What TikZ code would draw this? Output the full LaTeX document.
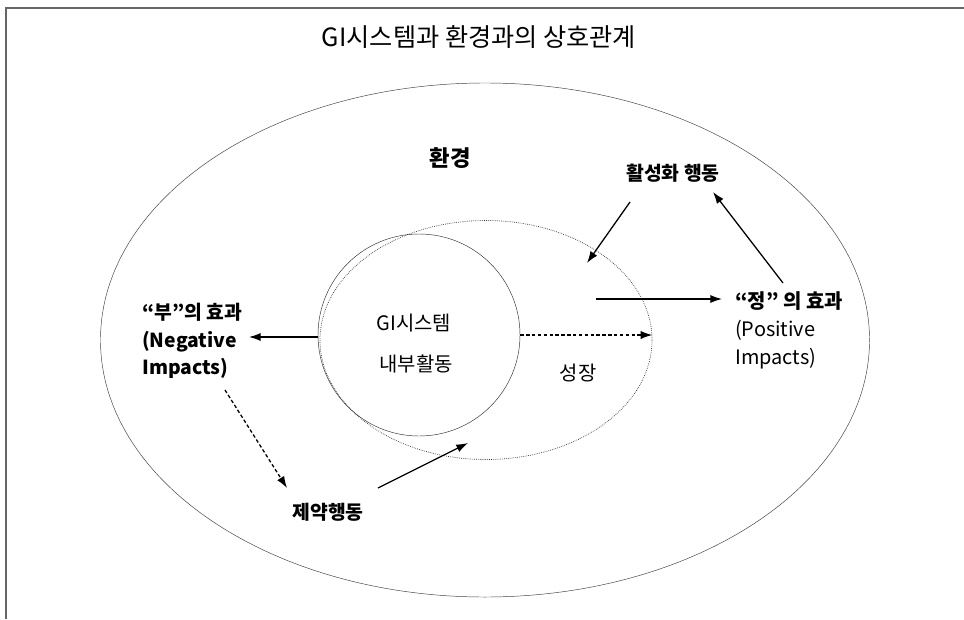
\documentclass[tikz,border=0pt]{standalone}
\usepackage{fontspec}
\setmainfont{Noto Sans CJK KR}
\usetikzlibrary{positioning,shapes.geometric,arrows.meta}

\begin{document}
\begin{tikzpicture}[x=0.03cm, y=-0.03cm,
	lbl/.style={font=\fontsize{16.5}{23.5}\selectfont\bfseries, align=left, inner sep=0pt},
	txt/.style={font=\fontsize{17}{20}\selectfont, inner sep=0pt},
	area/.style={ellipse, inner sep=0pt, draw=black!75},
	arr/.style={-{Latex[length=10pt,width=7pt]}, line width=1.1pt},
	aux/.style={}
	]
	\useasboundingbox (0,0) rectangle (964,619);
	\draw [black!60, line width=1.2pt] (6,619) -- (6,8) -- (964,8);

	\node (title) [font=\fontsize{21.5}{24}\selectfont] at (479,37) {GI시스템과 환경과의 상호관계};

	% areas
	\node (env) [area, minimum width=23.07cm, minimum height=15.42cm] at (485,340) {};
	\node (grow) [area, densely dotted, draw=black!80, line width=0.6pt, minimum width=9.96cm, minimum height=7.17cm] at (486,340) {};
	\node (gi) [circle, draw=black!80, inner sep=0pt, minimum size=6.06cm] at (419,335) {};

	\node (envlbl) [lbl, font=\fontsize{19}{20}\selectfont\bfseries] at (450,158) {환경};
	\node (gilbl) [txt] at (414,323) {GI시스템};
	\node (inner) [txt] at (416,364) {내부활동};
	\node (growlbl) [txt] at (578,373) {성장};
	\node (act) [lbl] at (673,173) {활성화 행동};
	\node (limit) [lbl] at (328,512) {제약행동};
	\node (neg) [lbl, anchor=west] at (142,341) {“부”의 효과\\(Negative\\Impacts)};
	\node (pos) [lbl, anchor=west, font=\fontsize{17}{24}\selectfont] at (735,330) {\textbf{“정” 의 효과}\\(Positive\\Impacts)};

		\coordinate (negtip) at (249,337);
		\coordinate (posfrom) at (596,299);
		\coordinate (postip) at (722,299);
		\coordinate (actfrom) at (630,202);
		\coordinate (acttip) at (587,263);
		\coordinate (posup) at (783,283);
		\coordinate (actup) at (713,192);
		\coordinate (negdown) at (225,390);
		\coordinate (limittip) at (287,488);
		\coordinate (limitfrom) at (378,488);
		\coordinate (limitup) at (468,443);

	\draw [arr] (gi.west |- negtip) -- (negtip);
	\draw [arr, densely dashed] (gi.east) -- (gi.east -| grow.east);
	\draw [arr] (posfrom) -- (postip);
	\draw [arr] (actfrom) -- (acttip);
	\draw [arr] (posup) -- (actup);
	\draw [arr, densely dashed] (negdown) -- (limittip);
	\draw [arr] (limitfrom) -- (limitup);

\end{tikzpicture}
\end{document}
